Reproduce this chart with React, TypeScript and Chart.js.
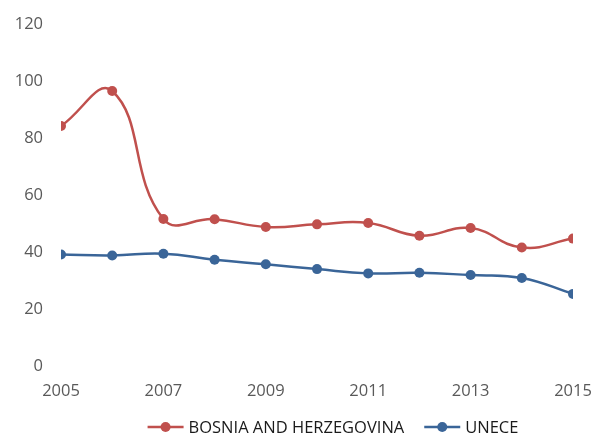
import React, { useEffect, useRef } from "react";
import { Chart, registerables } from "chart.js";

Chart.register(...registerables);

const years = [2005, 2006, 2007, 2008, 2009, 2010, 2011, 2012, 2013, 2014, 2015];
const bosnia = [84.2, 96.5, 51.6, 51.5, 48.8, 49.7, 50.2, 45.7, 48.4, 41.6, 44.7];
const unece = [39.1, 38.8, 39.4, 37.3, 35.7, 34.0, 32.5, 32.7, 31.9, 30.9, 25.3];
const seriesNames = ["BOSNIA AND HERZEGOVINA", "UNECE"];
const yTicks = [0, 20, 40, 60, 80, 100, 120];

const RED = "#C0504D";
const BLUE = "#3A6598";
const FONT = "'Open Sans', 'Noto Sans', sans-serif";

const legendPlugin = {
  id: "excelLegend",
  afterDraw(chart: any) {
    const ctx = chart.ctx as CanvasRenderingContext2D;
    const ds = chart.data.datasets;
    const markerW = 36;
    const textGap = 5;
    const itemGap = 20;
    ctx.save();
    ctx.font = `16.5px ${FONT}`;
    const widths = ds.map((d: any) => ctx.measureText(d.label).width);
    const total =
      widths.reduce((a: number, w: number) => a + w + markerW + textGap, 0) + itemGap * (ds.length - 1);
    const centerX = chart.chartArea.left + (chart.chartArea.right - chart.chartArea.left) / 2 + 16;
    const y = chart.height - 8;
    let x = centerX - total / 2;
    ds.forEach((d: any, i: number) => {
      ctx.strokeStyle = d.borderColor;
      ctx.lineWidth = 2.5;
      ctx.beginPath();
      ctx.moveTo(x, y);
      ctx.lineTo(x + markerW, y);
      ctx.stroke();
      ctx.fillStyle = d.borderColor;
      ctx.beginPath();
      ctx.arc(x + markerW / 2, y, 5, 0, Math.PI * 2);
      ctx.fill();
      x += markerW + textGap;
      ctx.fillStyle = "#1a1a1a";
      ctx.textBaseline = "middle";
      ctx.textAlign = "left";
      ctx.fillText(d.label, x, y + 1);
      x += widths[i] + itemGap;
    });
    ctx.restore();
  },
};

export default function App() {
  const ref = useRef<HTMLCanvasElement>(null);
  useEffect(() => {
    const mk = (vals: number[]) => vals.map((v, i) => ({ x: years[i], y: v }));
    const chart = new Chart(ref.current!, {
      type: "line",
      data: {
        datasets: [
          {
            label: seriesNames[0],
            data: mk(bosnia),
            borderColor: RED,
            backgroundColor: RED,
            borderWidth: 2.5,
            pointRadius: 5,
            pointBorderWidth: 0,
            pointStyle: "circle",
            tension: 0.45,
          },
          {
            label: seriesNames[1],
            data: mk(unece),
            borderColor: BLUE,
            backgroundColor: BLUE,
            borderWidth: 2.5,
            pointRadius: 5,
            pointBorderWidth: 0,
            pointStyle: "circle",
            tension: 0.45,
          },
        ],
      },
      options: {
        animation: false,
        responsive: false,
        layout: { padding: { top: 24, right: 30, left: 0, bottom: 33 } },
        scales: {
          x: {
            type: "linear",
            min: 2005,
            max: 2015,
            grid: { display: false, drawTicks: false },
            border: { display: false },
            ticks: {
              stepSize: 2,
              color: "#595959",
              font: { family: FONT, size: 16.5 },
              padding: 15,
              callback: (v: any) => String(v),
              maxRotation: 0,
            },
            afterFit: (s: any) => {
              s.height = 36;
              s.paddingLeft = 0;
              s.paddingRight = 0;
            },
          },
          y: {
            min: 0,
            max: 120,
            grid: { display: false, drawTicks: false },
            border: { display: false },
            afterBuildTicks: (s: any) => {
              s.ticks = yTicks.map((v) => ({ value: v }));
            },
            ticks: {
              color: "#595959",
              font: { family: FONT, size: 16.5 },
              padding: 18,
            },
            afterFit: (s: any) => {
              s.width = 61;
              s.paddingTop = 0;
              s.paddingBottom = 0;
            },
          },
        },
        plugins: {
          tooltip: { enabled: false },
          legend: { display: false },
        },
      },
      plugins: [legendPlugin],
    } as any);
    return () => chart.destroy();
  }, []);
  return (
    <div style={{ position: "absolute", left: 0, top: 0, width: 603, height: 435, background: "#fff" }}>
      <canvas ref={ref} width={603} height={435} />
    </div>
  );
}
